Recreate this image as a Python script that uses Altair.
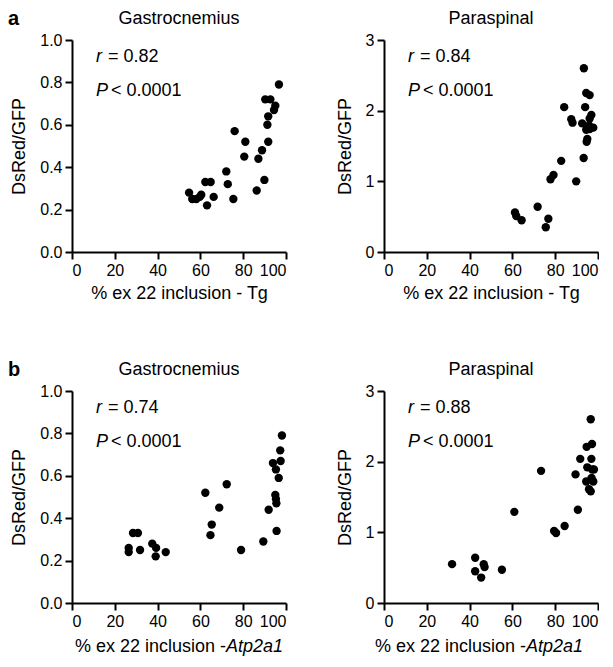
import altair as alt
import pandas as pd

FONT = "Liberation Sans"

# Panel a, Gastrocnemius
ga_x = [54.7, 56.2, 58.1, 59.7, 60.4, 63.1, 62.3, 64.8, 66.2, 72.1, 72.8, 75.4, 76.0, 81.0,
        80.5, 86.3, 87.1, 88.8, 89.9, 91.7, 91.3, 91.7, 90.3, 92.7, 94.4, 95.0, 96.7]
ga_y = [0.28, 0.25, 0.25, 0.26, 0.27, 0.22, 0.33, 0.33, 0.26, 0.38, 0.32, 0.25, 0.57, 0.52,
        0.45, 0.29, 0.44, 0.48, 0.34, 0.52, 0.60, 0.64, 0.72, 0.72, 0.67, 0.69, 0.79]
# Panel a, Paraspinal
pa_x = [61.2, 61.8, 64.3, 71.8, 76.8, 75.6, 77.8, 79.2, 82.8, 84.2, 87.5, 88.1, 89.8, 93.4,
        94.5, 96.1, 94.0, 93.3, 92.6, 94.5, 95.0, 94.7, 96.9, 96.1, 97.8, 95.8, 96.1]
pa_y = [0.56, 0.51, 0.45, 0.64, 0.47, 0.35, 1.03, 1.09, 1.29, 2.05, 1.88, 1.83, 1.00, 2.60,
        2.25, 2.22, 2.05, 1.33, 1.82, 1.73, 1.60, 1.56, 1.94, 1.89, 1.76, 1.79, 1.74]
# Panel b, Gastrocnemius
gb_x = [26.5, 26.5, 28.5, 30.8, 31.8, 37.5, 39.3, 39.1, 43.8, 62.3, 65.3, 64.7, 68.8, 72.3,
        79.0, 89.4, 91.9, 95.6, 95.0, 95.5, 95.3, 96.6, 93.9, 95.3, 97.3, 97.5, 98.1]
gb_y = [0.26, 0.24, 0.33, 0.33, 0.25, 0.28, 0.26, 0.22, 0.24, 0.52, 0.37, 0.32, 0.45, 0.56,
        0.25, 0.29, 0.44, 0.34, 0.51, 0.47, 0.49, 0.59, 0.66, 0.63, 0.72, 0.67, 0.79]
# Panel b, Paraspinal
pb_x = [31.8, 42.6, 42.6, 45.4, 46.6, 47.0, 55.1, 60.9, 73.4, 79.5, 80.4, 84.4, 89.5, 90.6,
        91.7, 94.7, 97.2, 96.6, 96.9, 95.0, 97.3, 94.5, 97.0, 95.8, 96.6, 98.1, 97.8]
pb_y = [0.55, 0.64, 0.45, 0.36, 0.55, 0.51, 0.47, 1.29, 1.87, 1.02, 0.99, 1.09, 1.82, 1.32,
        2.04, 2.21, 2.25, 2.60, 2.04, 1.92, 1.89, 1.72, 1.77, 1.61, 1.58, 1.89, 1.72]

x_ticks = [0, 20, 40, 60, 80, 100]
g_ticks = [0, 0.2, 0.4, 0.6, 0.8, 1.0]
p_ticks = [0, 1, 2, 3]

W, H = 214, 212


def txt(s, x, y, size=18, italic=False, bold=False, align="left"):
    return alt.Chart(pd.DataFrame({"t": [s]})).mark_text(
        font=FONT, fontSize=size, fontStyle="italic" if italic else "normal",
        fontWeight="bold" if bold else "normal", align=align, baseline="middle",
        color="black",
    ).encode(x=alt.value(x), y=alt.value(y), text="t:N")


def panel(xs, ys, title, ymax, yticks, yfmt, r, xtitle, letter=None, xtitle_parts=None):
    df = pd.DataFrame({"x": xs, "y": ys})
    xaxis = alt.Axis(values=x_ticks, title=xtitle if xtitle else None, titlePadding=6)
    pts = alt.Chart(df).mark_point(filled=True, size=70, color="black", opacity=1).encode(
        x=alt.X("x:Q", scale=alt.Scale(domain=[0, 100], nice=False), axis=xaxis),
        y=alt.Y("y:Q", scale=alt.Scale(domain=[0, ymax], nice=False),
                axis=alt.Axis(values=yticks, format=yfmt, title="DsRed/GFP", titlePadding=11)),
    )
    layers = [
        pts,
        txt(title, W / 2, -21, align="center"),
        txt("r", 24, 17, italic=True),
        txt("= " + r, 36, 17),
        txt("P", 24, 51, italic=True),
        txt("< 0.0001", 39, 51),
    ]
    if letter:
        layers.append(txt(letter, -64, -21, size=20, bold=True))
    if xtitle_parts:
        reg, ital, split = xtitle_parts
        layers.append(txt(reg, split, H + 44, align="right"))
        layers.append(txt(ital, split, H + 44, italic=True))
    return alt.layer(*layers).properties(width=W, height=H)


a1 = panel(ga_x, ga_y, "Gastrocnemius", 1.0, g_ticks, ".1f", "0.82",
           "% ex 22 inclusion - Tg", letter="a")
a2 = panel(pa_x, pa_y, "Paraspinal", 3, p_ticks, "d", "0.84", "% ex 22 inclusion - Tg")
b1 = panel(gb_x, gb_y, "Gastrocnemius", 1.0, g_ticks, ".1f", "0.74", None, letter="b",
           xtitle_parts=("% ex 22 inclusion - ", "Atp2a1", 154))
b2 = panel(pb_x, pb_y, "Paraspinal", 3, p_ticks, "d", "0.88", None,
           xtitle_parts=("% ex 22 inclusion -", "Atp2a1", 142))

chart = alt.vconcat(
    alt.hconcat(a1, a2, spacing=49),
    alt.hconcat(b1, b2, spacing=49),
    spacing=58,
).properties(
    padding={"top": 1, "left": 0, "right": 0, "bottom": 0}, background="white"
).configure_view(stroke=None).configure_axis(
    grid=False, domainColor="black", domainWidth=2, tickColor="black", tickWidth=2,
    tickSize=7, labelFont=FONT, labelFontSize=16, labelColor="black", labelPadding=3,
    titleFont=FONT, titleFontSize=18, titleFontWeight="normal", titleColor="black",
)

chart.save("out.html", embed_options={"renderer": "svg", "actions": False})
